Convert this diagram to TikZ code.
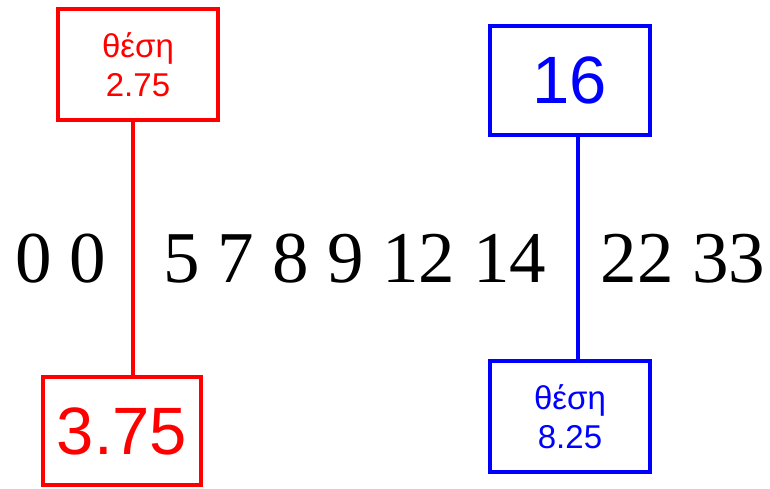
\documentclass[tikz,border=0pt]{standalone}
\usepackage{fontspec}
\setmainfont{Liberation Serif}
\newfontfamily\boxfont{Liberation Sans}
\usetikzlibrary{calc}

\begin{document}
\begin{tikzpicture}[x=1pt, y=-1pt, line width=4pt,
    numrow/.style={anchor=base west, inner sep=0pt, font=\fontsize{73}{73}\selectfont},
    posbox/.style={draw, rectangle, inner sep=0pt, align=center,
      font=\boxfont\fontsize{33}{39}\selectfont},
    valbox/.style={draw, rectangle, inner sep=0pt,
      font=\boxfont\fontsize{67}{67}\selectfont}]
  \useasboundingbox (0,0) rectangle (770,488);
  % the sorted values
  \node[numrow] (left) at (13,282) {0 0};
  \node[numrow] (mid) at (161,282) {5 7 8 9 12 14};
  \node[numrow, anchor=base east] (right) at (767,282) {22 33};
  % red cut
  \node[posbox, red, minimum width=160pt, minimum height=111pt] (redtop) at (138,64.5) {θέση\\2.75};
  \node[valbox, red, minimum width=158pt, minimum height=108pt] (redbot) at (122,431) {3.75};
  \coordinate (redcut) at (133,0);
  \draw[red] (redcut |- redtop.south) -- (redcut |- redbot.north);
  % blue cut
  \node[valbox, blue, minimum width=160pt, minimum height=109pt] (bluetop) at (570,80.5) {16};
  \node[posbox, blue, minimum width=160pt, minimum height=111pt] (bluebot) at (570,416.5) {θέση\\8.25};
  \coordinate (bluecut) at (578,0);
  \draw[blue] (bluecut |- bluetop.south) -- (bluecut |- bluebot.north);
\end{tikzpicture}
\end{document}
